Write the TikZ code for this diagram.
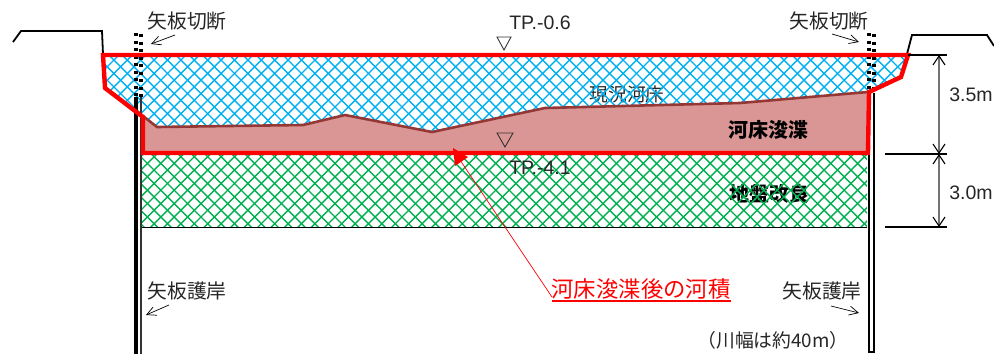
\documentclass[tikz,border=0pt]{standalone}
\usepackage{fontspec}
\usetikzlibrary{arrows.meta}
\setmainfont{Noto Sans CJK JP}
\newfontfamily\latinf{Liberation Sans}
\definecolor{hblue}{HTML}{00B0F0}
\definecolor{hgreen}{HTML}{00B050}
\definecolor{bedfill}{HTML}{D99694}
\definecolor{bedline}{HTML}{953735}
\tikzset{
  lbl/.style={inner sep=0pt,font=\fontsize{19.8}{22}\selectfont,text=black!85},
  genk/.style={inner sep=0pt,font=\fontsize{18.7}{22}\selectfont,text=black!85},
  lat/.style={inner sep=0pt,font=\latinf\fontsize{19.5}{22}\selectfont,text=black!85},
  boldlbl/.style={inner sep=0pt,font=\bfseries\fontsize{20}{22}\selectfont,text=black},
  thinarrow/.style={draw=black,line width=.7pt,-{Straight Barb[length=9pt,width=9pt]}},
  dimline/.style={draw=black!55,line width=1.1pt,{Straight Barb[length=9pt,width=12pt,color=black]}-{Straight Barb[length=9pt,width=12pt,color=black]}},
  tick/.style={draw=black,line width=1.1pt},
  bank/.style={draw=black,line width=1.8pt},
  wl/.style={draw=black!80,line width=.9pt},
  hatchb/.style={draw=hblue,line width=1.4pt},
  hatchg/.style={draw=hgreen,line width=1.4pt},
  dots/.style={draw=black,line width=3.2pt,dash pattern=on 3pt off 4.5pt},
}
\begin{document}
\begin{tikzpicture}[x=1pt,y=-1pt]
\useasboundingbox (0,0) rectangle (994,354);
% banks
\draw[bank] (13,42) -- (21,31) -- (102,31) -- (103,54);
\draw[bank] (907,54) -- (912,35) -- (987,35) -- (994,46);
% text under hatch
\fill[bedfill] (143,116) -- (157,127) -- (303,125) -- (345,115) -- (432,132) -- (545,108) -- (740,103) -- (868,92) -- (868,153) -- (143,153) -- cycle;
\node[genk] (genkyo) at (627,94) {現況河床};
\node[boldlbl] (kasho) at (768,130) {河床浚渫};
\node[boldlbl] (jiban) at (769,194) {地盤改良};
% blue hatch
\begin{scope}
\clip (103,55) -- (908,55) -- (901,77) -- (868,92) -- (740,103) -- (545,108) -- (432,132) -- (345,115) -- (303,125) -- (157,127) -- (143,116) -- (105,88) -- cycle;
\foreach \i in {0,13.4,...,1000}{
  \draw[hatchb] (\i,40) -- ++(100,100);
  \draw[hatchb] (\i,40) -- ++(-100,100);
}
\end{scope}
% green hatch
\begin{scope}
\clip (142,155) rectangle (867,227);
\foreach \i in {0,13.4,...,1100}{
  \draw[hatchg] (\i,150) -- ++(100,100);
  \draw[hatchg] (\i,150) -- ++(-100,100);
}
\end{scope}
\draw[draw=black,line width=1pt] (142,227) -- (867,227);
% river bed line
\draw[draw=bedline,line width=2.6pt,line join=round] (143,116) -- (157,127) -- (303,125) -- (345,115) -- (432,132) -- (545,108) -- (740,103) -- (868,92);
% sheet piles
\draw[draw=black,line width=3.8pt] (136,97) -- (136,354);
\draw[draw=black!80,line width=2pt] (141,97) -- (141,354);
\draw[draw=black,line width=2.8pt] (869,93) -- (869,352) -- (874,352) -- (874,93);
% cut-off piles (dotted)
\draw[dots] (136,33) -- (136,97);
\draw[dots] (141,34) -- (141,97);
\draw[dots] (869,33) -- (869,93);
\draw[dots] (874,34) -- (874,93);
% red outline
\draw[draw=red,line width=4.4pt,line join=miter] (103,55) -- (908,55) -- (901,77) -- (869,92) -- (868,153) -- (143,153) -- (143,117) -- (105,88) -- cycle;
% water levels
\draw[wl] (497,37) -- (511,37) -- (504,50) -- cycle;
\draw[wl] (497,133) -- (513,133) -- (505,147) -- cycle;
\node[lat] (tp1) at (540,23) {TP.-0.6};
\node[lat] (tp2) at (540,168) {TP.-4.1};
% labels
\node[lbl] (ct1) at (187,21) {矢板切断};
\node[lbl] (ct2) at (829,21) {矢板切断};
\node[lbl] (go1) at (187,291) {矢板護岸};
\node[lbl] (go2) at (822,291) {矢板護岸};
\node[inner sep=0pt,font=\fontsize{22.4}{26}\selectfont,text=red] (kaseki) at (641,289) {河床浚渫後の河積};
\draw[draw=red,line width=1.2pt] (552,301) coordinate (kw) -- (731,301) coordinate (ke);
\node[inner sep=0pt,font=\fontsize{18.8}{22}\selectfont,text=black!85] (haba) at (773,340) {（川幅は約40m）};
\node[lat] (d35) at (971,95) {3.5m};
\node[lat] (d30) at (971,193) {3.0m};
% small arrows
\coordinate (a1s) at (175,35); \coordinate (a1e) at (151,44);
\coordinate (a2s) at (832,34); \coordinate (a2e) at (859,42);
\coordinate (a3s) at (169,305); \coordinate (a3e) at (146,315);
\coordinate (a4s) at (831,306); \coordinate (a4e) at (859,313);
\draw[thinarrow] (a1s) -- (a1e);
\draw[thinarrow] (a2s) -- (a2e);
\draw[thinarrow] (a3s) -- (a3e);
\draw[thinarrow] (a4s) -- (a4e);
% dimensions
\coordinate (t1) at (908,55); \coordinate (t1e) at (947,55);
\coordinate (t2) at (885,154); \coordinate (t2e) at (947,154);
\coordinate (t3) at (885,227); \coordinate (t3e) at (947,227);
\draw[tick] (t1) -- (t1e);
\draw[tick] (t2) -- (t2e);
\draw[tick] (t3) -- (t3e);
\coordinate (v1) at (939,55); \coordinate (v2) at (939,154); \coordinate (v3) at (939,227);
\draw[dimline] (v1) -- (v2);
\draw[dimline] (v2) -- (v3);
% red arrow
\coordinate (rtip) at (453,148);
\coordinate (rend) at (552,297);
\draw[draw=red,line width=.7pt] (rend) -- (460,160);
\fill[red] (rtip) -- (468,157) -- (455,166) -- cycle;
\end{tikzpicture}
\end{document}
